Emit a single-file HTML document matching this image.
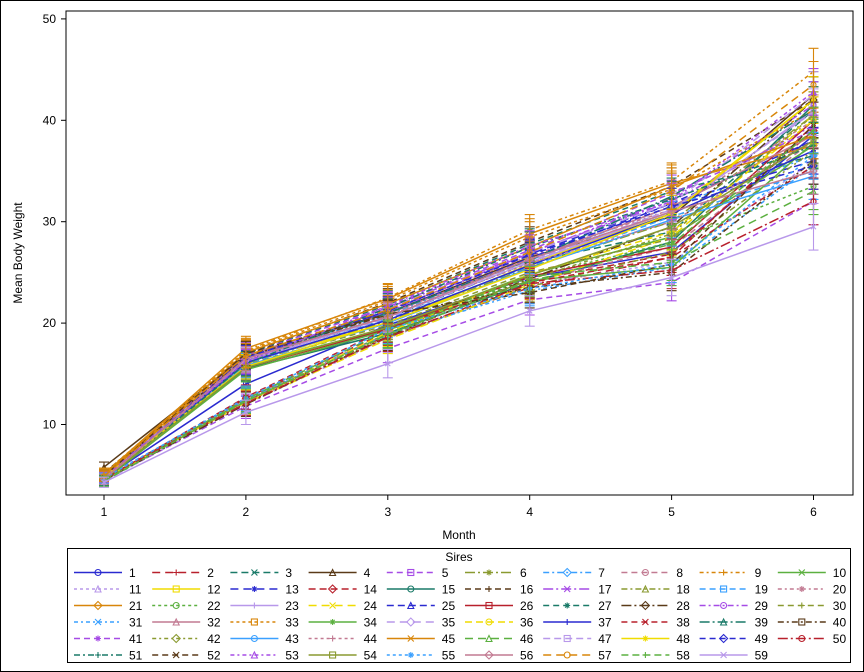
<!DOCTYPE html>
<html><head><meta charset="utf-8"><style>
html,body{margin:0;padding:0;background:#fff;}
svg{display:block;font-family:"Liberation Sans",Arial,sans-serif;}
</style></head><body>
<svg id="chart" width="864" height="672" viewBox="0 0 864 672" xmlns="http://www.w3.org/2000/svg">
<rect x="0.5" y="0.5" width="863" height="671" fill="#fff" stroke="#000"/>
<rect x="66" y="11" width="787" height="484" fill="none" stroke="#000"/>
<g id="yaxis"></g>
<g id="xaxis"></g>
<text transform="translate(22,253) rotate(-90)" text-anchor="middle" font-size="12">Mean Body Weight</text>
<text x="459" y="539" text-anchor="middle" font-size="12">Month</text>
<g id="series"></g>
<rect x="67.5" y="548.5" width="783" height="114" fill="none" stroke="#000"/>
<text x="459" y="561" text-anchor="middle" font-size="12">Sires</text>
<g id="legend"></g>
</svg>
<script>
const months = [1,2,3,4,5,6];
const yTicks = [10,20,30,40,50];
const errHalf = [0.5,1.2,1.4,1.5,1.8,2.3];
const s1=[4.7,14.0,19.8,24.5,27.0,38.5];
const s2=[4.6,12.3,18.8,23.5,26.5,39.5];
const s3=[4.8,16.3,20.5,26.0,29.0,41.0];
const s4=[5.8,16.8,21.0,26.5,30.5,42.5];
const s5=[4.5,11.8,17.5,22.3,24.0,32.0];
const s6=[4.9,16.0,20.2,25.5,30.0,40.5];
const s7=[4.7,16.5,20.8,26.2,31.5,36.5];
const s8=[4.6,12.5,19.0,24.0,27.5,38.0];
const s9=[5.0,17.3,22.5,29.2,34.0,44.8];
const s10=[4.5,15.8,19.5,24.8,28.5,37.5];
const s11=[4.4,12.0,18.5,23.8,26.0,36.0];
const s12=[4.8,16.2,20.0,25.8,31.0,42.0];
const s13=[4.7,16.6,21.2,26.8,31.8,36.0];
const s14=[4.6,12.6,19.2,24.2,26.8,39.0];
const s15=[4.5,15.5,19.0,24.0,28.0,41.5];
const s16=[5.2,17.0,22.0,28.0,33.5,42.0];
const s17=[4.8,16.4,21.5,27.0,32.0,39.5];
const s18=[4.6,12.2,18.6,23.6,27.0,37.0];
const s19=[4.7,16.0,20.4,25.6,30.5,35.0];
const s20=[4.9,16.8,21.3,26.6,31.2,40.0];
const s21=[5.1,17.5,22.4,28.8,33.8,37.5];
const s22=[4.5,12.4,19.0,24.5,28.0,33.5];
const s23=[4.6,16.2,20.6,26.0,31.0,41.0];
const s24=[4.7,12.1,18.4,23.8,28.5,40.5];
const s25=[4.8,16.6,21.0,26.4,31.8,38.0];
const s26=[4.6,15.6,19.4,24.6,27.5,40.0];
const s27=[5.0,16.9,21.8,27.8,33.0,36.5];
const s28=[4.5,12.0,18.7,24.4,29.5,42.0];
const s29=[4.7,16.3,21.1,26.9,32.3,41.5];
const s30=[4.6,15.9,19.8,25.0,28.3,39.0];
const s31=[4.8,12.4,18.9,23.2,25.5,35.5];
const s32=[4.7,16.7,20.9,26.3,31.5,38.5];
const s33=[5.2,17.2,22.2,28.5,33.2,41.0];
const s34=[4.5,15.4,19.3,24.2,25.5,37.8];
const s35=[4.8,16.5,21.4,27.0,31.8,42.5];
const s36=[4.6,12.2,19.1,24.8,29.0,40.0];
const s37=[4.7,16.1,20.3,25.7,30.8,37.0];
const s38=[4.6,12.7,19.5,24.0,26.5,35.5];
const s39=[4.5,16.4,21.0,26.2,32.5,41.0];
const s40=[5.0,16.7,20.8,23.5,25.0,36.0];
const s41=[4.8,16.9,21.6,27.2,32.8,39.0];
const s42=[4.6,12.3,18.8,24.3,28.8,40.5];
const s43=[4.7,15.8,20.0,25.4,30.2,34.5];
const s44=[4.6,16.3,20.7,25.9,30.0,38.0];
const s45=[5.0,17.1,21.9,27.5,33.5,38.5];
const s46=[4.5,12.5,19.3,24.6,26.0,33.0];
const s47=[4.7,16.4,20.5,26.1,31.2,40.8];
const s48=[4.8,15.7,20.1,25.3,30.8,42.0];
const s49=[4.6,16.6,21.2,26.7,31.5,35.5];
const s50=[4.7,12.1,18.6,23.9,25.2,32.0];
const s51=[4.5,16.0,21.5,27.5,32.2,37.5];
const s52=[4.9,17.0,20.9,23.0,25.8,39.5];
const s53=[4.8,16.2,21.7,27.6,32.0,42.8];
const s54=[4.6,15.6,19.6,24.7,29.5,38.0];
const s55=[4.7,12.6,19.4,23.4,25.8,36.5];
const s56=[4.6,16.5,20.6,26.3,31.0,35.0];
const s57=[4.9,16.8,21.3,27.0,33.0,43.5];
const s58=[4.4,12.3,18.9,24.1,27.8,39.0];
const s59=[4.3,11.2,16.0,21.2,24.5,29.5];
const seriesValues=[s1,s2,s3,s4,s5,s6,s7,s8,s9,s10,s11,s12,s13,s14,s15,s16,s17,s18,s19,s20,s21,s22,s23,s24,s25,s26,s27,s28,s29,s30,s31,s32,s33,s34,s35,s36,s37,s38,s39,s40,s41,s42,s43,s44,s45,s46,s47,s48,s49,s50,s51,s52,s53,s54,s55,s56,s57,s58,s59];

const palette=['#2a2ad0','#b8202c','#1a7a68','#5a3a18','#a64be6','#8a9a30','#3aa0ff','#c27a92','#d8860a','#5cb040','#b898ea','#f0dc00'];
const dashes=['','8,5','7,4','','6,4','10,3,2,3','6,3,2,3','6,4','4,3,2,3','','3,3'];
const shapes=['circle','plus','x','triangle','square','star','diamond'];
const NS='http://www.w3.org/2000/svg';
function X(m){return 104+(m-1)*141.9;}
function Y(v){return 424.5-(v-10)*10.14;}
function mk(tag,attrs,parent){const e=document.createElementNS(NS,tag);for(const k in attrs)e.setAttribute(k,attrs[k]);parent.appendChild(e);return e;}

const ya=document.getElementById('yaxis');
yTicks.forEach(t=>{
  const ln=mk('line',{x1:61,x2:66,y1:Y(t),y2:Y(t),stroke:'#000'},ya);
  
  
  const tx=mk('text',{x:56,y:Y(t)+4,'text-anchor':'end','font-size':'12'},ya);
  
  
  tx.textContent=t;
});
const xa=document.getElementById('xaxis');
months.forEach(m=>{
  const ln=mk('line',{x1:X(m),x2:X(m),y1:495,y2:500,stroke:'#000'},xa);
  
  
  const tx=mk('text',{x:X(m),y:516,'text-anchor':'middle','font-size':'12'},xa);
  
  
  tx.textContent=m;
});

function marker(shape,cx,cy,r,col,parent){
  const a={fill:'none',stroke:col,'stroke-width':1.1};
  let e;
  if(shape==='circle')e=mk('circle',Object.assign({cx:cx,cy:cy,r:r},a),parent);
  else if(shape==='square')e=mk('rect',Object.assign({x:cx-r,y:cy-r,width:2*r,height:2*r},a),parent);
  else if(shape==='triangle')e=mk('path',Object.assign({d:`M${cx},${cy-r}L${cx+r},${cy+r}L${cx-r},${cy+r}Z`},a),parent);
  else if(shape==='diamond')e=mk('path',Object.assign({d:`M${cx},${cy-r-1}L${cx+r+1},${cy}L${cx},${cy+r+1}L${cx-r-1},${cy}Z`},a),parent);
  else if(shape==='plus')e=mk('path',Object.assign({d:`M${cx-r},${cy}H${cx+r}M${cx},${cy-r}V${cy+r}`},a),parent);
  else if(shape==='x')e=mk('path',Object.assign({d:`M${cx-r},${cy-r}L${cx+r},${cy+r}M${cx-r},${cy+r}L${cx+r},${cy-r}`},a),parent);
  else e=mk('path',Object.assign({d:`M${cx-r},${cy}H${cx+r}M${cx},${cy-r}V${cy+r}M${cx-r*0.7},${cy-r*0.7}L${cx+r*0.7},${cy+r*0.7}M${cx-r*0.7},${cy+r*0.7}L${cx+r*0.7},${cy-r*0.7}`},a),parent);
  return e;
}

const sg=document.getElementById('series');
seriesValues.forEach((vals,i)=>{
  const col=palette[i%12], dash=dashes[i%11], shp=shapes[i%7];
  const g=mk('g',{},sg);
  
  
  vals.forEach((v,j)=>{
    const x=X(months[j]),y1=Y(v-errHalf[j]),y2=Y(v+errHalf[j]);
    const eb=mk('path',{d:`M${x},${y1}V${y2}M${x-5},${y1}H${x+5}M${x-5},${y2}H${x+5}`,stroke:col,'stroke-width':1.1,fill:'none'},g);
    
    
  });
  const d=vals.map((v,j)=>(j?'L':'M')+X(months[j])+','+Y(v)).join('');
  const p=mk('path',{d:d,fill:'none',stroke:col,'stroke-width':1.5,'stroke-dasharray':dash},g);
  
  
  vals.forEach((v,j)=>{
    const m=marker(shp,X(months[j]),Y(v),2.5,col,g);
    
    
  });
});

const lg=document.getElementById('legend');
seriesValues.forEach((vals,i)=>{
  const col=palette[i%12], dash=dashes[i%11], shp=shapes[i%7];
  const c=i%10, r=Math.floor(i/10);
  const x0=74+c*78.2, y0=572.5+r*16.5;
  const g=mk('g',{},lg);
  
  
  mk('line',{x1:x0,x2:x0+48,y1:y0,y2:y0,stroke:col,'stroke-width':1.5,'stroke-dasharray':dash},g);
  marker(shp,x0+24,y0,3,col,g);
  const t=mk('text',{x:x0+55,y:y0+4.5,'font-size':'12'},g);
  t.textContent=i+1;
});
</script>
</body></html>
